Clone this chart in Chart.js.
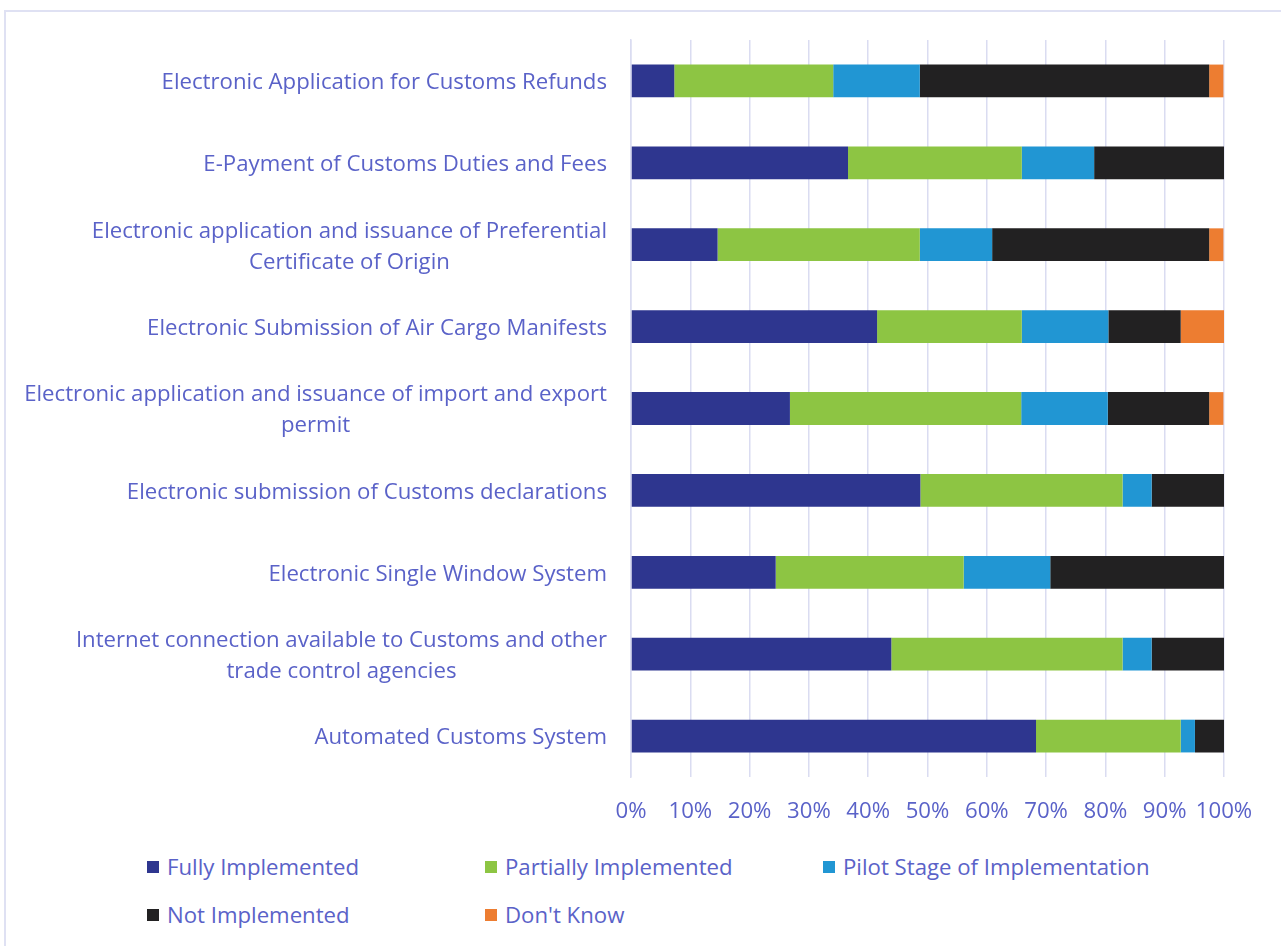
<!DOCTYPE html>
<html>
<head>
<meta charset="utf-8">
<script src="https://cdn.jsdelivr.net/npm/chart.js@4/dist/chart.umd.min.js"></script>
<style>
  html, body { margin: 0; padding: 0; background: #fff; }
  body { width: 1281px; height: 946px; position: relative; overflow: hidden; font-family: "Open Sans", sans-serif; }
  #frame { position: absolute; left: 4px; top: 10px; width: 1400px; height: 1000px; border: 2px solid #dfe1f3; box-sizing: border-box; }
  #wrap { position: absolute; left: 0; top: 0; width: 1281px; height: 830px; }
  #legend { position: absolute; left: 0; top: 845px; width: 1281px; }
  .li { position: absolute; display: flex; align-items: center; font-size: 22.2px; color: #5a62c8; white-space: nowrap; line-height: 30px; }
  .sw { width: 12px; height: 12px; margin-right: 8px; }
</style>
</head>
<body>
<div id="frame"></div>
<div id="wrap"><canvas id="c" width="1281" height="830"></canvas></div>
<div id="legend"></div>
<script>
const categories = [
  "Electronic Application for Customs Refunds",
  "E-Payment of Customs Duties and Fees",
  ["Electronic application and issuance of Preferential", "Certificate of Origin"],
  "Electronic Submission of Air Cargo Manifests",
  ["Electronic application and issuance of import and export", "permit"],
  "Electronic submission of Customs declarations",
  "Electronic Single Window System",
  ["Internet connection available to Customs and other", "trade control agencies"],
  "Automated Customs System"
];
const seriesNames = ["Fully Implemented", "Partially Implemented", "Pilot Stage of Implementation", "Not Implemented", "Don't Know"];
const fullyImplemented     = [7.3, 36.6, 14.6, 41.5, 26.8, 48.8, 24.4, 43.9, 68.3];
const partiallyImplemented = [26.8, 29.3, 34.1, 24.4, 39.0, 34.1, 31.7, 39.0, 24.4];
const pilotStage           = [14.6, 12.2, 12.2, 14.6, 14.6, 4.9, 14.6, 4.9, 2.4];
const notImplemented       = [48.8, 22.0, 36.6, 12.2, 17.1, 12.2, 29.3, 12.2, 4.9];
const dontKnow             = [2.4, 0, 2.4, 7.3, 2.4, 0, 0, 0, 0];
const xTickLabels = ["0%", "10%", "20%", "30%", "40%", "50%", "60%", "70%", "80%", "90%", "100%"];

const colors = ["#2e368f", "#8dc543", "#2196d3", "#222122", "#ed7d31"];
const textColor = "#5a62c8";
const gridColor = "#dadcf1";
const FONT = "Open Sans";
const FS = 22.2;

const seriesValues = [fullyImplemented, partiallyImplemented, pilotStage, notImplemented, dontKnow];

const yLabelPlugin = {
  id: 'yLabels',
  afterDraw(chart) {
    const ctx = chart.ctx;
    const ys = chart.scales.y;
    ctx.save();
    ctx.font = FS + "px '" + FONT + "'";
    ctx.fillStyle = textColor;
    ctx.textAlign = "center";
    ctx.textBaseline = "middle";
    const rightX = chart.chartArea.left - 24;
    const lh = 31;
    chart.data.labels.forEach((lab, i) => {
      const lines = Array.isArray(lab) ? lab : [lab];
      const w = Math.max(...lines.map(l => ctx.measureText(l).width));
      const cx = rightX - w / 2;
      const cy = ys.getPixelForValue(i) + 2;
      const start = cy - (lines.length - 1) * lh / 2;
      lines.forEach((l, k) => ctx.fillText(l, cx, start + k * lh));
    });
    ctx.restore();
  }
};

new Chart(document.getElementById('c'), {
  type: 'bar',
  data: {
    labels: categories,
    datasets: seriesNames.map((n, i) => ({
      label: n,
      data: seriesValues[i],
      backgroundColor: colors[i],
      borderWidth: 0,
      barPercentage: 0.4,
      categoryPercentage: 1.0
    }))
  },
  options: {
    indexAxis: 'y',
    responsive: false,
    animation: false,
    layout: { padding: { top: 40, right: 57, left: 0, bottom: 0 } },
    plugins: { legend: { display: false }, tooltip: { enabled: false } },
    scales: {
      x: {
        stacked: true,
        min: 0, max: 100,
        ticks: {
          stepSize: 10,
          padding: 21,
          maxRotation: 0,
          minRotation: 0,
          autoSkip: false,
          color: textColor,
          font: { family: FONT, size: FS },
          callback: (v, i) => xTickLabels[i]
        },
        grid: { color: gridColor, lineWidth: 1.5, drawTicks: false },
        border: { display: false },
        afterFit: s => { s.height = 53; }
      },
      y: {
        stacked: true,
        ticks: { display: false },
        grid: { display: false },
        border: { display: true, color: gridColor, width: 1.5 },
        afterFit: s => { s.width = 631; }
      }
    }
  },
  plugins: [yLabelPlugin]
});

const legendPos = [[147, 867], [485, 867], [823, 867], [147, 915], [485, 915]];
const lg = document.getElementById('legend');
seriesNames.forEach((n, i) => {
  const d = document.createElement('div');
  d.className = 'li';
  d.style.left = legendPos[i][0] + 'px';
  d.style.top = (legendPos[i][1] - 845 - 15) + 'px';
  d.innerHTML = '<span class="sw" style="background:' + colors[i] + '"></span><span></span>';
  d.lastChild.textContent = n;
  lg.appendChild(d);
});
</script>
</body>
</html>
